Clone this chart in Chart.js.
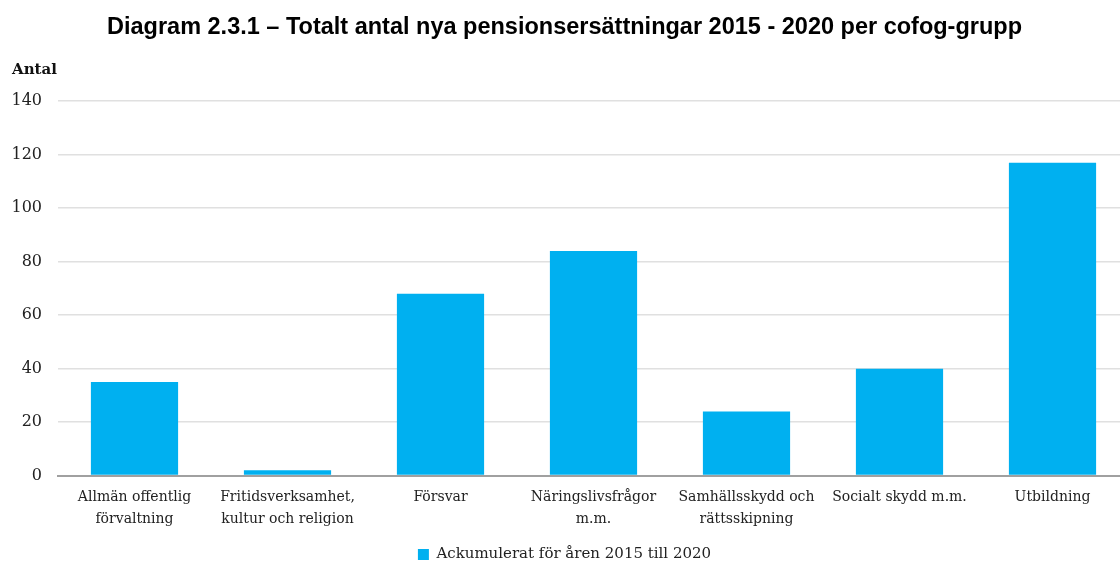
<!DOCTYPE html>
<html>
<head>
<meta charset="utf-8">
<script src="https://cdn.jsdelivr.net/npm/chart.js@4.4.0/dist/chart.umd.min.js"></script>
<style>
  html, body { margin: 0; padding: 0; background: #fff; overflow: hidden; }
  #wrap { width: 1152px; height: 562px; }
</style>
</head>
<body>
<div id="wrap"><canvas id="pensionChart"></canvas></div>
<script>
// Data
const categories = [
    ['Allmän offentlig', 'förvaltning'],
    ['Fritidsverksamhet,', 'kultur och religion'],
    'Försvar',
    ['Näringslivsfrågor', 'm.m.'],
    ['Samhällsskydd och', 'rättsskipning'],
    'Socialt skydd m.m.',
    'Utbildning'
];
const accumulated = [35, 2, 68, 84, 24, 40, 117];
const seriesLabel = 'Ackumulerat för åren 2015 till 2020';
const yTicks = [0, 20, 40, 60, 80, 100, 120, 140];

const serif = "'DejaVu Serif', serif";

// Draws the "Antal" caption above the y axis
const axisCaption = {
    id: 'axisCaption',
    afterDraw(chart) {
        const c = chart.ctx;
        c.save();
        c.font = 'bold 15px ' + serif;
        c.fillStyle = '#111';
        c.textAlign = 'left';
        c.textBaseline = 'middle';
        c.fillText('Antal', 12, chart.chartArea.top - 31);
        c.restore();
    }
};

const ctx = document.getElementById('pensionChart').getContext('2d');

new Chart(ctx, {
    type: 'bar',
    data: {
        labels: categories,
        datasets: [{
            label: seriesLabel,
            data: accumulated,
            backgroundColor: '#00B0F0',
            borderWidth: 0,
            barPercentage: 0.57,
            categoryPercentage: 1.0
        }]
    },
    options: {
        responsive: true,
        maintainAspectRatio: false,
        animation: false,
        layout: { padding: { left: 0, right: 23, bottom: -10 } },
        scales: {
            y: {
                min: 0,
                max: 140,
                afterBuildTicks(axis) {
                    axis.ticks = yTicks.map(v => ({ value: v }));
                },
                afterFit(axis) {
                    axis.width = 58;
                },
                grid: { color: '#e0e0e0', lineWidth: 1.5, drawTicks: false },
                border: { display: false },
                ticks: {
                    color: '#222',
                    padding: 16,
                    font: { family: serif, size: 16 }
                }
            },
            x: {
                grid: { display: false },
                border: { display: true, color: '#a0a0a0', width: 2 },
                ticks: {
                    color: '#222',
                    padding: 3,
                    maxRotation: 0,
                    autoSkip: false,
                    font: { family: serif, size: 14, lineHeight: 1.55 }
                }
            }
        },
        plugins: {
            title: {
                display: true,
                text: 'Diagram 2.3.1 – Totalt antal nya pensionsersättningar 2015 - 2020 per cofog-grupp',
                color: '#000',
                font: { family: "'Liberation Sans', Arial, sans-serif", size: 23.5, weight: 'bold' },
                padding: { top: 13, bottom: 60 }
            },
            legend: {
                position: 'bottom',
                labels: {
                    color: '#222',
                    boxWidth: 11,
                    boxHeight: 11,
                    padding: 14,
                    font: { family: serif, size: 15 }
                }
            },
            tooltip: { enabled: false }
        }
    },
    plugins: [axisCaption]
});
</script>
</body>
</html>
